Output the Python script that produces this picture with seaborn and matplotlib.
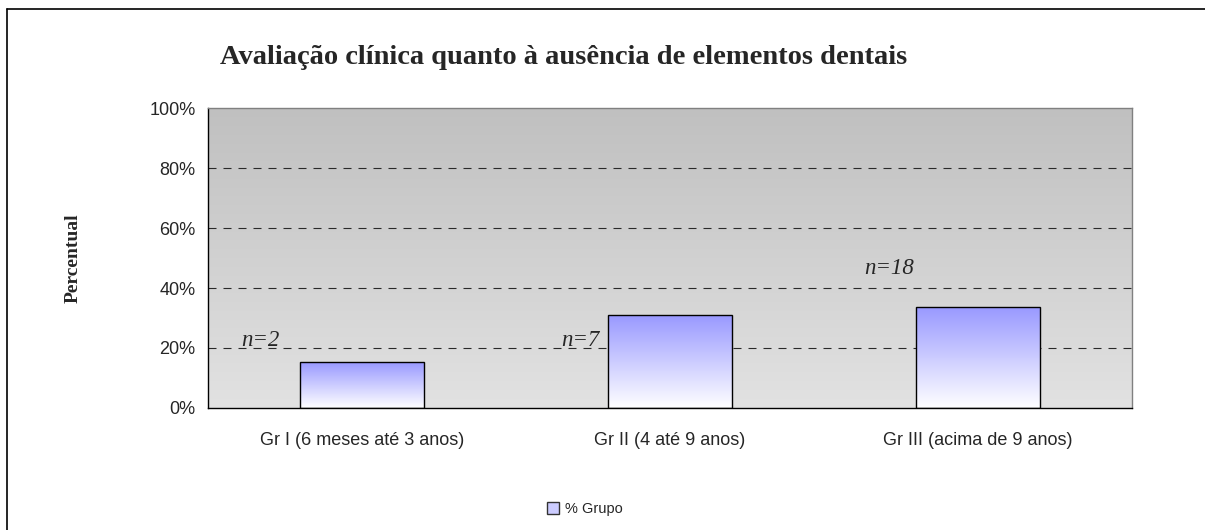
import numpy as np
import pandas as pd
import seaborn as sns
import matplotlib.pyplot as plt
from matplotlib.lines import Line2D
from matplotlib.patches import Patch
from matplotlib.colors import LinearSegmentedColormap

# data
groups = ["Gr I (6 meses até 3 anos)", "Gr II (4 até 9 anos)", "Gr III (acima de 9 anos)"]
pct_grupo = [15.3, 31.0, 33.6]
n_labels = ["n=2", "n=7", "n=18"]
n_label_x = [-0.33, 0.71, 1.71]
n_label_y = [22.5, 22.5, 46.5]

df = pd.DataFrame({"grupo": groups, "pct": pct_grupo})

sns.set_theme(style="white")
plt.rcParams["font.family"] = ["Liberation Sans", "DejaVu Sans"]
serif = ["Liberation Serif", "DejaVu Serif"]

fig = plt.figure(figsize=(12.05, 5.3), dpi=100)
ax = fig.add_axes([0.1726, 0.2302, 0.7668, 0.566])

ax = sns.barplot(data=df, x="grupo", y="pct", ax=ax, width=0.4,
                 facecolor="none", edgecolor="black", linewidth=1.0, zorder=3)
ax.set_xlim(-0.5, 2.5)
ax.set_ylim(0, 100)

# grey gradient background
bg = LinearSegmentedColormap.from_list("bg", ["#e2e2e2", "#c0c0c0"])
grad = np.linspace(0, 1, 256).reshape(-1, 1)
ax.imshow(grad, cmap=bg, aspect="auto", origin="lower",
          extent=(-0.5, 2.5, 0, 100), zorder=0)

# bar gradient fill
barcm = LinearSegmentedColormap.from_list("bar", ["#ffffff", "#9999ff"])
for p in ax.patches:
    x0, y0 = p.get_x(), p.get_y()
    w, h = p.get_width(), p.get_height()
    im = ax.imshow(grad, cmap=barcm, aspect="auto", origin="lower",
                   extent=(x0, x0 + w, y0, y0 + h), zorder=2)
    im.set_clip_path(p)

ax.set_xlim(-0.5, 2.5)
ax.set_ylim(0, 100)

# dashed grid
for yv in [20, 40, 60, 80]:
    ax.axhline(yv, color="#2a2a2a", linestyle=(0, (7.2, 6.3)), linewidth=0.8, zorder=1)

for s in ["top", "right"]:
    ax.spines[s].set_color("#808080")
    ax.spines[s].set_linewidth(1.0)
for s in ["left", "bottom"]:
    ax.spines[s].set_color("black")
    ax.spines[s].set_linewidth(1.0)

ax.set_yticks([0, 20, 40, 60, 80, 100])
ax.set_yticklabels(["0%", "20%", "40%", "60%", "80%", "100%"], fontsize=13)
ax.tick_params(axis="y", direction="out", length=5, width=1, color="black", pad=4)
ax.set_xticks([0, 1, 2])
ax.set_xticklabels(groups, fontsize=13)
ax.set_xticks([-0.5, 0.5, 1.5, 2.5], minor=True)
ax.tick_params(axis="x", which="major", length=0, pad=17)
ax.tick_params(axis="x", which="minor", direction="out", length=5, width=1, color="black")
ax.set_xlabel("")
ax.set_ylabel("Percentual", fontsize=14, fontweight="bold", family=serif)
ax.yaxis.set_label_coords(-0.137, 0.5)

for lab, xv, yv in zip(n_labels, n_label_x, n_label_y):
    ax.text(xv, yv, lab, fontsize=16.5, style="italic", ha="center", va="center",
            family=serif, zorder=4)

fig.text(564 / 1205, 1 - 57 / 530, "Avaliação clínica quanto à ausência de elementos dentais",
         fontsize=20.5, fontweight="bold", ha="center", va="center", family=serif)

handle = Patch(facecolor="#ccccff", edgecolor="#333333", linewidth=1.0)
fig.legend([handle], ["% Grupo"], loc="center", bbox_to_anchor=(585 / 1205, 1 - 509 / 530),
           frameon=False, fontsize=10.5, handlelength=0.8, handleheight=0.8, handletextpad=0.4)

# outer chart frame
fx, fy = 7 / 1205, 1 - 9 / 530
fig.add_artist(Line2D([fx, fx], [0, fy], color="black", linewidth=1.2, transform=fig.transFigure))
fig.add_artist(Line2D([fx, 1], [fy, fy], color="black", linewidth=1.2, transform=fig.transFigure))

fig.savefig("out.png", dpi=100)
